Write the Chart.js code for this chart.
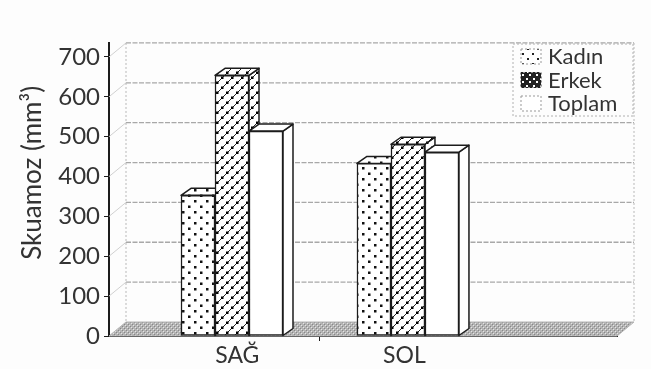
<!DOCTYPE html>
<html lang="tr">
<head>
    <meta charset="UTF-8">
    <title>Skuamoz</title>
    <script src="https://cdn.jsdelivr.net/npm/chart.js@4"></script>
    <style>
        body { margin: 0; background: #fdfdfd; }
        canvas { display: block; }
    </style>
</head>
<body>
    <canvas id="chart" width="651" height="369"></canvas>

    <script>
        const categories = ['SAĞ', 'SOL'];
        const seriesNames = ['Kadın', 'Erkek', 'Toplam'];
        const kadin = [353, 433];
        const erkek = [654, 481];
        const toplam = [514, 461];
        const yTicks = [0, 100, 200, 300, 400, 500, 600, 700];

        const INK = '#1c1c1c';
        const TEXT = '#333';
        const FONT = 'Lato, sans-serif';
        // depth of the 3D look
        const wallDx = 17, wallDy = -14;
        const barDx = 10, barDy = -7;

        function makePattern(size, draw) {
            const c = document.createElement('canvas');
            c.width = size[0];
            c.height = size[1];
            const g = c.getContext('2d');
            g.fillStyle = '#fff';
            g.fillRect(0, 0, size[0], size[1]);
            draw(g);
            return g.createPattern(c, 'repeat');
        }

        const dots = makePattern([12, 11], g => {
            g.fillStyle = '#111';
            g.fillRect(2, 2, 2.5, 2.5);
            g.fillRect(8, 7.5, 2.5, 2.5);
        });
        const stripes = makePattern([10, 10], g => {
            g.strokeStyle = '#222';
            g.lineWidth = 1;
            g.beginPath();
            g.moveTo(-1, 11); g.lineTo(11, -1);
            g.moveTo(-1, 1); g.lineTo(1, -1);
            g.moveTo(9, 11); g.lineTo(11, 9);
            g.stroke();
            g.fillStyle = '#000';
            g.fillRect(1, 6.5, 2.5, 2.5);
            g.fillRect(6, 1.5, 2.5, 2.5);
        });
        const cross = makePattern([7, 7], g => {
            g.fillStyle = '#222';
            g.fillRect(0, 0, 7, 7);
            g.fillStyle = '#fff';
            g.fillRect(1, 1, 2, 2);
            g.fillRect(4, 4, 2, 2);
        });
        const sparseDots = makePattern([10, 10], g => {
            g.fillStyle = '#222';
            g.fillRect(2, 3, 2, 2);
            g.fillRect(7, 8, 2, 2);
        });
        const floorDither = makePattern([4, 4], g => {
            g.fillStyle = '#b4b4b4';
            g.fillRect(0, 0, 4, 4);
            g.fillStyle = '#888';
            g.fillRect(0, 0, 1, 1);
            g.fillRect(2, 2, 1, 1);
            g.fillStyle = '#e4e4e4';
            g.fillRect(1, 1, 1, 1);
            g.fillRect(3, 3, 1, 1);
        });

        const fills = [dots, stripes, '#fff'];
        const legendFills = [sparseDots, cross, '#fff'];

        function poly(ctx, pts, fill) {
            ctx.beginPath();
            pts.forEach((p, i) => i ? ctx.lineTo(p[0], p[1]) : ctx.moveTo(p[0], p[1]));
            ctx.closePath();
            ctx.fillStyle = fill;
            ctx.fill();
            ctx.stroke();
        }

        const wallPlugin = {
            id: 'wall',
            beforeDatasetsDraw(chart) {
                const ctx = chart.ctx;
                const a = chart.chartArea;
                const y = chart.scales.y;
                const base = y.getPixelForValue(0);
                const wallL = a.left + wallDx, wallR = a.right + wallDx;
                ctx.save();

                // floor
                ctx.strokeStyle = '#b4b4b4';
                ctx.lineWidth = 1;
                poly(ctx, [[a.left, base], [wallL, base + wallDy], [wallR, base + wallDy], [a.right, base]], floorDither);

                // back wall grid lines
                ctx.strokeStyle = '#a8a8a8';
                ctx.lineWidth = 1.3;
                ctx.setLineDash([5, 1.5]);
                yTicks.slice(1).forEach(v => {
                    const p = y.getPixelForValue(v);
                    ctx.beginPath();
                    ctx.moveTo(wallL, p + wallDy);
                    ctx.lineTo(wallR, p + wallDy);
                    ctx.stroke();
                });
                ctx.strokeStyle = '#d0d0d0';
                ctx.setLineDash([]);
                ctx.lineWidth = 1;
                yTicks.slice(1).forEach(v => {
                    const p = y.getPixelForValue(v);
                    ctx.beginPath();
                    ctx.moveTo(a.left, p);
                    ctx.lineTo(wallL, p + wallDy);
                    ctx.stroke();
                });

                // wall edges
                const top = y.getPixelForValue(700) + wallDy;
                ctx.strokeStyle = '#b8b8b8';
                ctx.setLineDash([2, 2]);
                [wallL, wallR].forEach(x => {
                    ctx.beginPath();
                    ctx.moveTo(x, top);
                    ctx.lineTo(x, base + wallDy);
                    ctx.stroke();
                });
                ctx.setLineDash([]);

                // side and top of every bar, the fronts are drawn by the chart after this
                ctx.strokeStyle = INK;
                ctx.lineWidth = 1.5;
                ctx.lineJoin = 'round';
                chart.data.datasets.forEach((ds, i) => {
                    chart.getDatasetMeta(i).data.forEach(bar => {
                        const l = bar.x - bar.width / 2, r = bar.x + bar.width / 2;
                        poly(ctx, [[r, bar.y], [r + barDx, bar.y + barDy], [r + barDx, bar.base + barDy], [r, bar.base]], fills[i]);
                        poly(ctx, [[l, bar.y], [l + barDx, bar.y + barDy], [r + barDx, bar.y + barDy], [r, bar.y]], fills[i]);
                    });
                });
                ctx.restore();
            },
            afterDraw(chart) {
                // legend box over the wall
                const ctx = chart.ctx;
                ctx.save();
                ctx.fillStyle = '#fdfdfd';
                ctx.strokeStyle = '#b0b0b0';
                ctx.lineWidth = 1;
                ctx.setLineDash([2, 2]);
                ctx.fillRect(513, 44, 120, 72);
                ctx.strokeRect(513, 44, 120, 72);
                ctx.font = '22px ' + FONT;
                ctx.textBaseline = 'alphabetic';
                seriesNames.forEach((name, i) => {
                    const top = 49 + i * 23.5;
                    ctx.fillStyle = legendFills[i];
                    ctx.fillRect(521, top, 20, 15);
                    ctx.strokeStyle = i === 1 ? '#222' : '#999';
                    ctx.strokeRect(521, top, 20, 15);
                    ctx.fillStyle = TEXT;
                    ctx.fillText(name, 548, top + 15);
                });
                ctx.restore();
            }
        };

        new Chart(document.getElementById('chart'), {
            type: 'bar',
            data: {
                datasets: seriesNames.map((name, i) => ({
                    label: name,
                    data: [kadin, erkek, toplam][i].map((v, c) => ({ x: c, y: v })),
                    backgroundColor: fills[i],
                    borderColor: INK,
                    borderWidth: 1.5,
                    borderSkipped: false,
                    barThickness: 34
                }))
            },
            plugins: [wallPlugin],
            options: {
                responsive: false,
                animation: false,
                layout: { padding: { top: 43, right: 34 } },
                plugins: { legend: { display: false }, tooltip: { enabled: false } },
                scales: {
                    x: {
                        type: 'linear',
                        offset: false,
                        min: -0.699,
                        max: 2.188,
                        afterFit(scale) { scale.height = 33; },
                        afterBuildTicks(scale) {
                            scale.ticks = [{ value: 0.03 }, { value: 0.5 }, { value: 0.98 }];
                        },
                        border: { color: INK, width: 2 },
                        grid: {
                            offset: false,
                            drawOnChartArea: false,
                            tickLength: 5,
                            tickColor: ctx => ctx.index === 1 ? INK : 'rgba(0,0,0,0)'
                        },
                        ticks: {
                            autoSkip: false,
                            maxRotation: 0,
                            padding: 1,
                            color: TEXT,
                            font: { family: FONT, size: 23 },
                            callback: (v, i) => i === 0 ? categories[0] : i === 2 ? categories[1] : ''
                        }
                    },
                    y: {
                        min: 0,
                        max: 735,
                        afterFit(scale) { scale.width = 109; },
                        border: { color: INK, width: 2 },
                        grid: { drawOnChartArea: false, tickLength: 5, tickColor: INK },
                        title: {
                            display: true,
                            // leading spaces lift the centred title a little, as in the original
                            text: '     Skuamoz (mm³)',
                            color: TEXT,
                            font: { family: FONT, size: 26 },
                            padding: { top: 17, bottom: 0 }
                        },
                        ticks: {
                            stepSize: 100,
                            includeBounds: false,
                            padding: 4,
                            color: TEXT,
                            font: { family: FONT, size: 24 }
                        }
                    }
                }
            }
        });
    </script>
</body>
</html>
